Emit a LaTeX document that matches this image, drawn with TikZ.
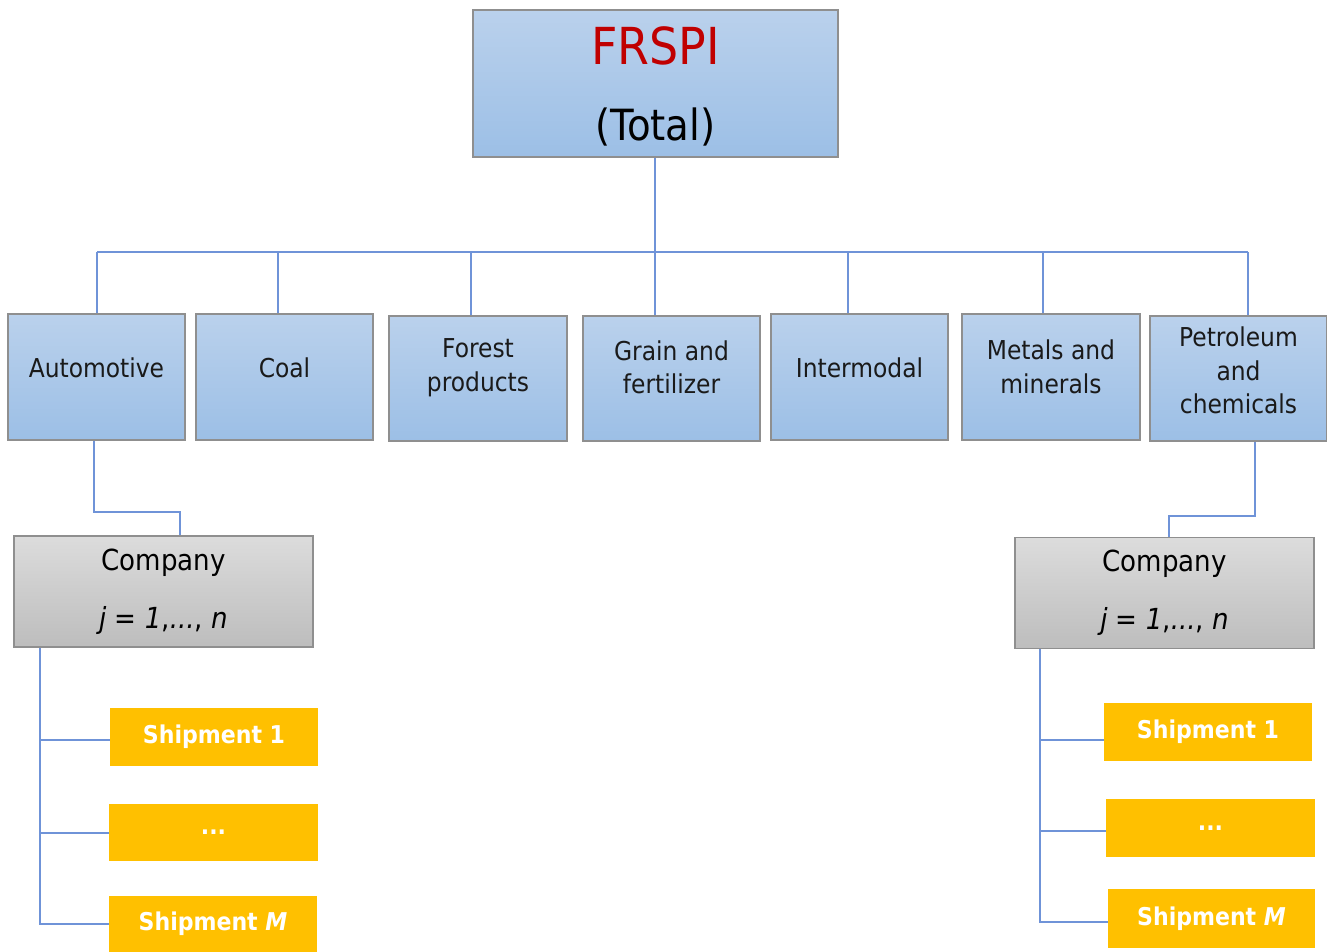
\documentclass[tikz,border=0pt]{standalone}
\usepackage{fontspec}
\setmainfont{DejaVu Sans Condensed}
\begin{document}
\begin{tikzpicture}[x=1pt,y=-1pt,
  catbox/.style={draw=boxgray, line width=1.5pt, top color=bluetop, bottom color=bluebot,
    inner sep=0pt},
  cattext/.style={inner sep=0pt, align=center, text=txt, font=\fontsize{26}{33.5}\selectfont},
  compbox/.style={draw=boxgray, line width=1.5pt, top color=graytop, bottom color=graybot,
    inner sep=2pt, align=center, text=black, font=\fontsize{29}{58}\selectfont,
    minimum width=299pt, minimum height=111pt},
  shipbox/.style={fill=ship, draw=none, inner sep=0pt, align=center, text=white,
    font=\bfseries\fontsize{24.5}{28}\selectfont, minimum width=208pt},
  conn/.style={draw=linecol, line width=2pt}
]
\definecolor{boxgray}{HTML}{8F8F8F}
\definecolor{bluetop}{HTML}{BAD1EC}
\definecolor{bluebot}{HTML}{9CBFE6}
\definecolor{graytop}{HTML}{DCDCDC}
\definecolor{graybot}{HTML}{BDBDBD}
\definecolor{ship}{HTML}{FFC000}
\definecolor{linecol}{HTML}{6F93D8}
\definecolor{txt}{HTML}{1A1A1A}
\definecolor{frred}{HTML}{C00000}
\useasboundingbox (0,0) rectangle (1327,951);

% top box
\node[catbox, minimum width=365pt, minimum height=147pt] (frspi) at (655.5,83.5) {};
\node[cattext, text=black, font=\fontsize{43}{76}\selectfont] (frspiT) at ([yshift=-3pt]frspi.center)
  {{\fontsize{51}{51}\selectfont\color{frred}FRSPI}\\(Total)};

% categories
\node[catbox, minimum width=177pt, minimum height=126pt] (auto) at (96.5,377) {};
\node[catbox, minimum width=177pt, minimum height=126pt] (coal) at (284.5,377) {};
\node[catbox, minimum width=178pt, minimum height=125pt] (forest) at (478,378.5) {};
\node[catbox, minimum width=177pt, minimum height=125pt] (grain) at (671.5,378.5) {};
\node[catbox, minimum width=177pt, minimum height=126pt] (inter) at (859.5,377) {};
\node[catbox, minimum width=178pt, minimum height=126pt] (metal) at (1051,377) {};
\node[catbox, minimum width=177pt, minimum height=125pt] (petro) at (1238.5,378.5) {};
\node[cattext] (autoT) at ([yshift=9pt]auto.center) {Automotive};
\node[cattext] (coalT) at ([yshift=9pt]coal.center) {Coal};
\node[cattext] (forestT) at ([yshift=11pt]forest.center) {Forest\\products};
\node[cattext] (grainT) at ([yshift=11pt]grain.center) {Grain and\\fertilizer};
\node[cattext] (interT) at ([yshift=9pt]inter.center) {Intermodal};
\node[cattext] (metalT) at ([yshift=10pt]metal.center) {Metals and\\minerals};
\node[cattext] (petroT) at ([yshift=8pt]petro.center) {Petroleum\\and\\chemicals};

% companies
\node[compbox] (compL) at (163.5,591.5) {Company\\\textit{j} = \textit{1},\textit{...}, \textit{n}};
\node[compbox] (compR) at (1164.5,593) {Company\\\textit{j} = \textit{1},\textit{...}, \textit{n}};

% shipments left
\node[shipbox, minimum height=58pt] (sL1) at (214,737) {Shipment 1};
\node[shipbox, minimum height=57pt, minimum width=209pt] (sL2) at (213.5,832.5) {...};
\node[shipbox, minimum height=56pt] (sL3) at (213,923.5) {Shipment \textit{M}};
% shipments right
\node[shipbox, minimum height=58pt] (sR1) at (1208,732) {Shipment 1};
\node[shipbox, minimum height=58pt, minimum width=209pt] (sR2) at (1210.5,828) {...};
\node[shipbox, minimum height=59pt, minimum width=207pt] (sR3) at (1211.5,918.5) {Shipment \textit{M}};

% bus
\coordinate (busL) at (97,252);
\coordinate (busR) at (1248,252);
\draw[conn] (busL) -- (busR);
\draw[conn] ([xshift=-0.5pt]frspi.south) -- ([xshift=-0.5pt]frspi.south |- grain.north);
\draw[conn] ([xshift=0.5pt]auto.north) -- ([xshift=0.5pt]auto.north |- busL);
\draw[conn] ([xshift=-6.5pt]coal.north) -- ([xshift=-6.5pt]coal.north |- busL);
\draw[conn] ([xshift=-7pt]forest.north) -- ([xshift=-7pt]forest.north |- busL);
\draw[conn] ([xshift=-11.5pt]inter.north) -- ([xshift=-11.5pt]inter.north |- busL);
\draw[conn] ([xshift=-8pt]metal.north) -- ([xshift=-8pt]metal.north |- busL);
\draw[conn] ([xshift=9.5pt]petro.north) -- ([xshift=9.5pt]petro.north |- busL);

% to companies
\draw[conn] ([xshift=-2.5pt]auto.south) -- ++(0,71) -| ([xshift=16.5pt]compL.north);
\draw[conn] ([xshift=16.5pt]petro.south) -- ++(0,74) -| ([xshift=4.5pt]compR.north);

% trees
\coordinate (tl) at ([xshift=-123.5pt]compL.south);
\draw[conn] (tl) -- (tl |- sL3.west) -- (sL3.west);
\draw[conn] ([yshift=-3pt]sL1.west) -- ([yshift=-3pt]sL1.west -| tl);
\draw[conn] (sL2.west) -- (sL2.west -| tl);

\coordinate (tr) at ([xshift=-124.5pt]compR.south);
\draw[conn] (tr) -- ([yshift=-3.5pt]tr |- sR3.west) -- ([yshift=-3.5pt]sR3.west);
\draw[conn] ([yshift=-8pt]sR1.west) -- ([yshift=-8pt]sR1.west -| tr);
\draw[conn] ([yshift=-3pt]sR2.west) -- ([yshift=-3pt]sR2.west -| tr);
\end{tikzpicture}
\end{document}
